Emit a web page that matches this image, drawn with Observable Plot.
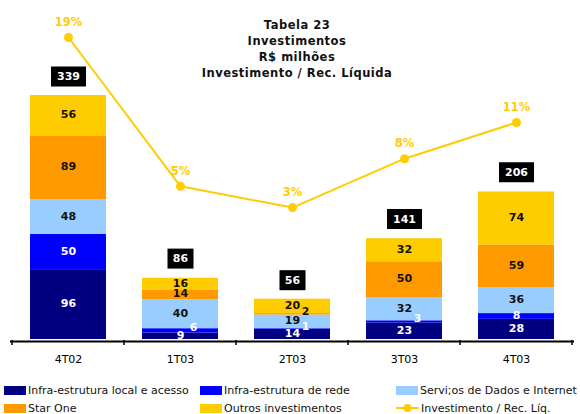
<!DOCTYPE html>
<html>
<head>
<meta charset="utf-8">
<script src="https://cdn.jsdelivr.net/npm/d3@7"></script>
<script src="https://cdn.jsdelivr.net/npm/@observablehq/plot@0.6"></script>
<style>
  html, body { margin: 0; padding: 0; background: #fff; }
  #wrap { position: relative; width: 580px; height: 414px; overflow: hidden; font-family: "DejaVu Sans", Verdana, sans-serif; }
  #wrap svg { position: absolute; left: 0; top: 0; }
  #title { position: absolute; left: 0; width: 594px; top: 17px; text-align: center; font-weight: bold; font-size: 11.5px; letter-spacing: 0.5px; line-height: 16px; color: #111; }
  #legend { position: absolute; left: 0; top: 380px; width: 580px; height: 34px; font-size: 11px; color: #111; }
  .li { position: absolute; display: flex; align-items: center; height: 18px; white-space: nowrap; }
  .sw { display: inline-block; width: 22px; height: 9px; margin-right: 2px; }
</style>
</head>
<body>
<div id="wrap">
  <div id="title"></div>
  <div id="legend"></div>
</div>
<script>
// ---- data ----
const periods = ["4T02", "1T03", "2T03", "3T03", "4T03"];
const seriesNames = [
  "Infra-estrutura local e acesso",
  "Infra-estrutura de rede",
  "Servi;os de Dados e Internet",
  "Star One",
  "Outros investimentos"
];
const infraLocal = [96, 9, 14, 23, 28];
const infraRede = [50, 6, 1, 3, 8];
const servicos = [48, 40, 19, 32, 36];
const starOne = [89, 14, 2, 50, 59];
const outros = [56, 16, 20, 32, 74];
const totals = [339, 86, 56, 141, 206];
const ratioPct = [19, 5, 3, 7.6, 11];
const lineName = "Investimento / Rec. Líq.";
const titleLines = ["Tabela 23", "Investimentos", "R$ milhões", "Investimento / Rec. Líquida"];
const seriesColors = ["#000080", "#0000FF", "#99CCFF", "#FF9900", "#FFCC00"];
const lineColor = "#FFCC00";

// ---- tables ----
const seriesValues = [infraLocal, infraRede, servicos, starOne, outros];
const stacked = [];
seriesNames.forEach((s, si) => periods.forEach((p, pi) => stacked.push({period: p, series: s, si, value: seriesValues[si][pi]})));
const totalsData = periods.map((p, i) => ({period: p, total: totals[i]}));
const ratioData = periods.map((p, i) => ({period: p, pct: ratioPct[i], label: Math.round(ratioPct[i]) + "%"}));

const W = 580, H = 370;
const xScale = {domain: periods, range: [10, 574], paddingInner: 0.317, paddingOuter: 0.16, align: 0.5};
const font = {fontFamily: "'DejaVu Sans', Verdana, sans-serif", fontSize: "11px", background: "transparent", overflow: "visible"};

const rect3 = {draw(ctx) { ctx.rect(-17.5, -10, 35, 20); }};
const rect2 = {draw(ctx) { ctx.rect(-13, -10, 26, 20); }};
const labelFill = d => d.si <= 1 ? "white" : "#111";
const stackOpts = {x: "period", y: "value", z: "series", order: seriesNames};

const bars = Plot.plot({
  width: W, height: H,
  marginLeft: 10, marginRight: 6, marginTop: 95, marginBottom: 31,
  style: font,
  x: xScale,
  y: {domain: [0, 339], range: [339, 95], axis: null},
  color: {domain: seriesNames, range: seriesColors},
  marks: [
    Plot.barY(stacked, {...stackOpts, fill: "series"}),
    Plot.text(stacked, Plot.stackY({...stackOpts, text: d => d.value > 6 ? String(d.value) : null, fill: labelFill, fontWeight: "bold", dy: -1})),
    Plot.text(stacked, Plot.stackY({...stackOpts, text: d => d.value <= 6 ? String(d.value) : null, fill: labelFill, fontWeight: "bold", dx: 13, dy: -3})),
    Plot.dot(totalsData.filter(d => d.total >= 100), {x: "period", y: "total", symbol: rect3, fill: "black", stroke: null, dy: -19}),
    Plot.dot(totalsData.filter(d => d.total < 100), {x: "period", y: "total", symbol: rect2, fill: "black", stroke: null, dy: -19}),
    Plot.text(totalsData, {x: "period", y: "total", text: d => String(d.total), fill: "white", fontWeight: "bold", dy: -19}),
    Plot.ruleY([0], {stroke: "black", strokeWidth: 2, dy: 2}),
    Plot.axisX({tickSize: 0, tickPadding: 16, fontSize: 11, label: null})
  ]
});

// tick marks at band boundaries, computed from Plot's x scale
const xs = bars.scale("x");
const gap = (xs.step - xs.bandwidth) / 2;
const bounds = periods.map(p => xs.apply(p) - gap).concat([xs.apply(periods[periods.length - 1]) + xs.bandwidth + gap]);
const ys = bars.scale("y");
const y0 = ys.apply(0) + 2;
d3.select(bars).append("g").selectAll("line").data(bounds).join("line")
  .attr("x1", d => d).attr("x2", d => d).attr("y1", y0 - 1).attr("y2", y0 + 4)
  .attr("stroke", "black").attr("stroke-width", 1.5);

const line = Plot.plot({
  width: W, height: H,
  marginLeft: 10, marginRight: 6, marginTop: 37, marginBottom: 131,
  style: font,
  x: {...xScale, axis: null},
  y: {domain: [0, 19], range: [239, 37], axis: null},
  marks: [
    Plot.line(ratioData, {x: "period", y: "pct", stroke: lineColor, strokeWidth: 2}),
    Plot.dot(ratioData, {x: "period", y: "pct", r: 4.5, fill: lineColor, stroke: null}),
    Plot.text(ratioData, {x: "period", y: "pct", text: "label", fill: lineColor, fontWeight: "bold", fontSize: 11.5, dy: -15})
  ]
});

const wrap = document.getElementById("wrap");
wrap.insertBefore(line, wrap.firstChild);
wrap.insertBefore(bars, wrap.firstChild);
line.style.pointerEvents = "none";

document.getElementById("title").innerHTML = titleLines.map(t => `<div>${t}</div>`).join("");

// legend
const legendCols = [4, 200, 396];
const legendItems = seriesNames.map((s, i) => ({name: s, color: seriesColors[i], type: "box"})).concat([{name: lineName, color: lineColor, type: "line"}]);
const leg = document.getElementById("legend");
legendItems.forEach((it, i) => {
  const row = Math.floor(i / 3), col = i % 3;
  const el = document.createElement("div");
  el.className = "li";
  el.style.left = legendCols[col] + "px";
  el.style.top = (row * 18 + 1) + "px";
  const sym = it.type === "box"
    ? `<span class="sw" style="background:${it.color}"></span>`
    : `<svg width="24" height="10" style="position:static;margin-right:1px"><line x1="0" x2="23" y1="5" y2="5" stroke="${it.color}" stroke-width="2"/><circle cx="11.5" cy="5" r="4" fill="${it.color}"/></svg>`;
  el.innerHTML = sym + `<span>${it.name}</span>`;
  leg.appendChild(el);
});
</script>
</body>
</html>
